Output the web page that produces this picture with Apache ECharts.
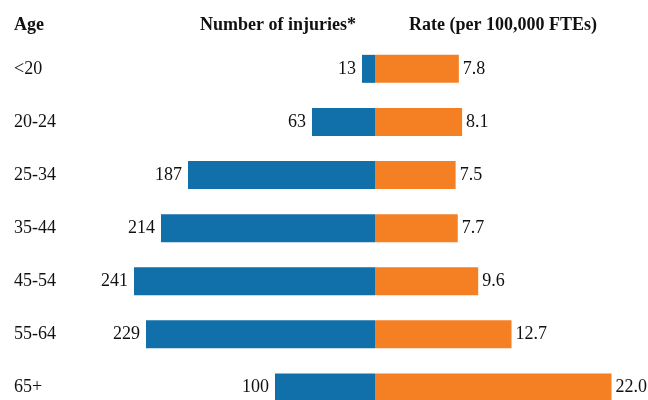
<!DOCTYPE html>
<html>
<head>
<meta charset="utf-8">
<script src="https://cdn.jsdelivr.net/npm/echarts@6/dist/echarts.min.js"></script>
<style>html,body{margin:0;padding:0;background:#fff;}#c{width:648px;height:400px;}</style>
</head>
<body>
<div id="c"></div>
<script>
const ageGroups = ['<20', '20-24', '25-34', '35-44', '45-54', '55-64', '65+'];
const injuries = [13, 63, 187, 214, 241, 229, 100];
const rates = [7.8, 8.1, 7.5, 7.7, 9.6, 12.7, 22.0];
const headers = ['Age', 'Number of injuries*', 'Rate (per 100,000 FTEs)'];

const FONT = '"Liberation Serif", "Times New Roman", serif';
const chart = echarts.init(document.getElementById('c'));
chart.setOption({
  animation: false,
  backgroundColor: '#fff',
  textStyle: { fontFamily: FONT },
  grid: [
    { left: 125, width: 250, top: 42.3, height: 371.7, outerBoundsMode: 'none', containLabel: false },
    { left: 375, width: 268.75, top: 42.3, height: 371.7, outerBoundsMode: 'none', containLabel: false }
  ],
  xAxis: [
    { gridIndex: 0, type: 'value', min: 0, max: 250, inverse: true, show: false },
    { gridIndex: 1, type: 'value', min: 0, max: 25, show: false }
  ],
  yAxis: [
    { gridIndex: 0, type: 'category', data: ageGroups, inverse: true,
      axisLine: { show: false }, axisTick: { show: false }, splitLine: { show: false },
      axisLabel: { align: 'left', margin: 111, fontFamily: FONT, fontSize: 18, color: '#111' } },
    { gridIndex: 1, type: 'category', data: ageGroups, inverse: true, show: false }
  ],
  graphic: [
    { type: 'text', left: 14, top: 16, style: { text: headers[0], font: 'bold 18px ' + FONT, fill: '#111' } },
    { type: 'text', left: 200, top: 16, style: { text: headers[1], font: 'bold 18px ' + FONT, fill: '#111' } },
    { type: 'text', left: 409, top: 16, style: { text: headers[2], font: 'bold 18px ' + FONT, fill: '#111' } }
  ],
  series: [
    { type: 'bar', xAxisIndex: 0, yAxisIndex: 0, data: injuries, barWidth: 28,
      itemStyle: { color: '#1170aa' },
      label: { show: true, position: 'left', distance: 6, fontFamily: FONT, fontSize: 18, color: '#111' } },
    { type: 'bar', xAxisIndex: 1, yAxisIndex: 1, data: rates, barWidth: 28,
      itemStyle: { color: '#f58024' },
      label: { show: true, position: 'right', distance: 4, fontFamily: FONT, fontSize: 18, color: '#111',
        formatter: p => p.value.toFixed(1) } }
  ]
});
</script>
</body>
</html>
